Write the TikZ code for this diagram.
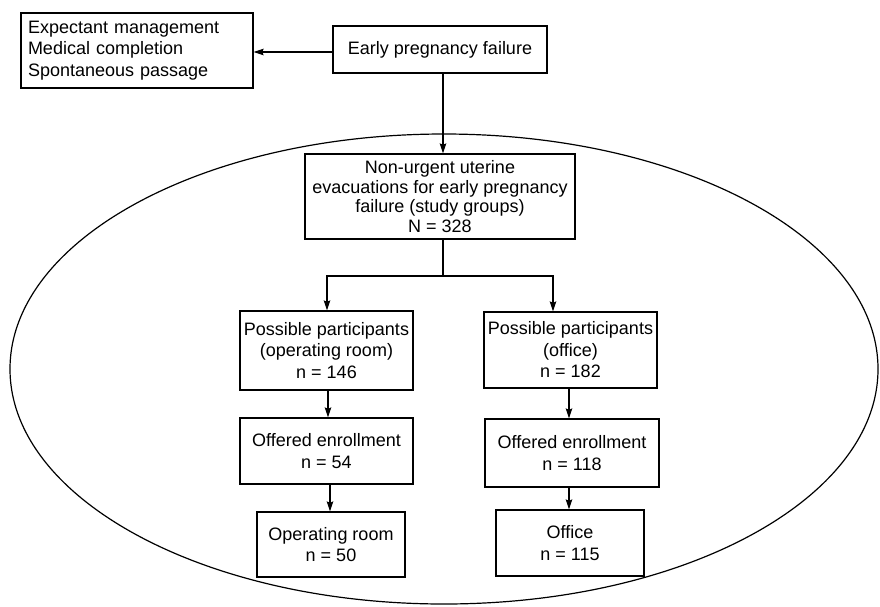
\documentclass[tikz,border=0pt]{standalone}
\usepackage{fontspec}
\setmainfont{Liberation Sans}
\usetikzlibrary{arrows.meta,calc}
\tikzset{
  box/.style={draw, line width=1.3pt, align=center, inner sep=0pt,
    font=\fontsize{18}{21.5}\selectfont},
  arr/.style={line width=1.2pt, -{Stealth[length=10pt,width=6.5pt,inset=1.5pt]}},
  ln/.style={line width=1.2pt}
}
\begin{document}
\begin{tikzpicture}[x=1pt,y=-1pt]
\useasboundingbox (0,0) rectangle (880,606);
\draw[line width=1.2pt] (444,369) ellipse [x radius=434, y radius=235];

\node[box, minimum width=232pt, minimum height=75pt, align=left, text width=218pt] (opts) at (137,50.5)
  {Expectant management\\Medical completion\\Spontaneous passage};
\node[box, minimum width=214pt, minimum height=47pt] (epf) at (440,49.5) {Early pregnancy failure};
\node[box, minimum width=270pt, minimum height=85pt, font=\fontsize{18}{19.5}\selectfont] (main) at (440,196.5)
  {Non-urgent uterine\\evacuations for early pregnancy\\failure (study groups)\\N = 328};
\node[box, minimum width=173pt, minimum height=79pt] (ppor) at (326.5,350.5)
  {Possible participants\\(operating room)\\n = 146};
\node[box, minimum width=173pt, minimum height=76pt] (ppof) at (570.5,350)
  {Possible participants\\(office)\\n = 182};
\node[box, minimum width=173pt, minimum height=66pt] (oeor) at (326.5,451)
  {Offered enrollment\\n = 54};
\node[box, minimum width=174pt, minimum height=68pt] (oeof) at (572,453)
  {Offered enrollment\\n = 118};
\node[box, minimum width=148pt, minimum height=65pt] (orb) at (331,544.5)
  {Operating room\\n = 50};
\node[box, minimum width=148pt, minimum height=66pt] (ofb) at (570,543)
  {Office\\n = 115};

\coordinate (j) at (443,276);
\draw[arr] (epf.west |- 0,52) -- (opts.east |- 0,52);
\draw[arr] (epf.south -| j) -- (main.north -| j);
\draw[ln] (main.south -| j) -- (j);
\draw[arr] (j) -| (ppor.north -| 327,0);
\draw[arr] (j) -| (ppof.north -| 553,0);
\draw[arr] (ppor.south -| 328,0) -- (oeor.north -| 328,0);
\draw[arr] (oeor.south -| 330,0) -- (orb.north -| 330,0);
\draw[arr] (ppof.south -| 569,0) -- (oeof.north -| 569,0);
\draw[arr] (oeof.south -| 569,0) -- (ofb.north -| 569,0);
\end{tikzpicture}
\end{document}
